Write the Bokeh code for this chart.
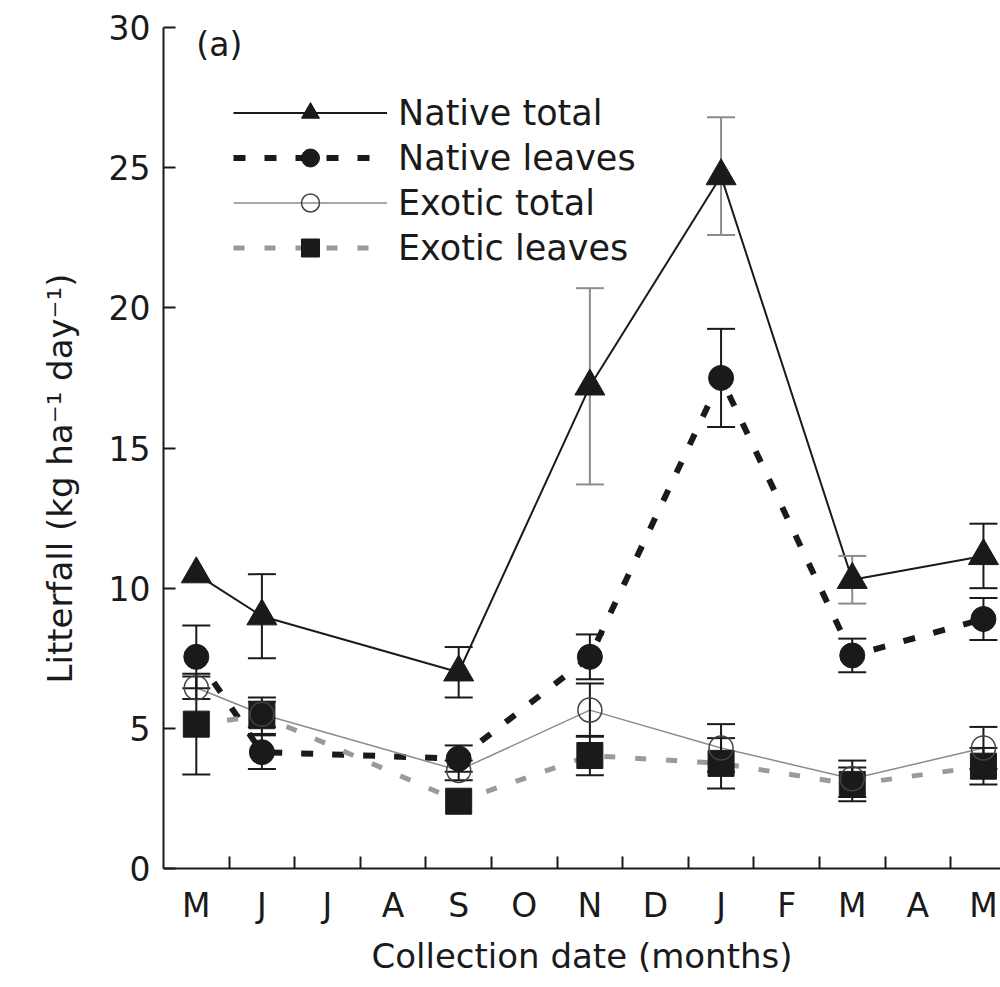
from bokeh.plotting import figure
from bokeh.models import Range1d, FixedTicker, Legend, LegendItem, Label, Title
from bokeh.embed import file_html
from bokeh.resources import INLINE

# Month labels along the x axis (May to May)
months = ["M", "J", "J", "A", "S", "O", "N", "D", "J", "F", "M", "A", "M"]
# Collection dates, as positions in the month sequence
collection = [0, 1, 4, 6, 8, 10, 12]

# Litterfall (kg ha-1 day-1), mean and standard error
native_total = [10.5, 9.0, 7.0, 17.2, 24.7, 10.3, 11.15]
native_total_se = [0.0, 1.5, 0.9, 3.5, 2.1, 0.85, 1.15]
native_leaves = [7.55, 4.15, 3.92, 7.55, 17.5, 7.6, 8.9]
native_leaves_se = [1.12, 0.6, 0.47, 0.8, 1.75, 0.6, 0.75]
exotic_total = [6.45, 5.5, 3.5, 5.65, 4.3, 3.2, 4.3]
exotic_total_se = [0.4, 0.45, 0.35, 0.95, 0.85, 0.65, 0.75]
exotic_leaves = [5.15, 5.45, 2.4, 4.03, 3.75, 3.0, 3.65]
exotic_leaves_se = [1.8, 0.65, 0.0, 0.7, 0.9, 0.6, 0.65]

FONT = "DejaVu Sans"
FS = "33px"
FS_TITLE = "34px"
INK = "#1a1a1a"
GREY = "#8c8c8c"

p = figure(width=1000, height=987,
           x_range=Range1d(-0.5, 12.26), y_range=Range1d(0, 30),
           output_backend="svg", toolbar_location=None,
           min_border_left=163, min_border_right=0,
           min_border_top=27, min_border_bottom=119)
p.outline_line_color = None
p.grid.visible = False
p.background_fill_color = "white"
p.border_fill_color = "white"

# x axis: month letters centred on each month, tick marks at month boundaries
p.xaxis.ticker = FixedTicker(ticks=list(range(13)),
                             minor_ticks=[i + 0.5 for i in range(12)])
p.xaxis.major_label_overrides = {i: m for i, m in enumerate(months)}
p.xaxis.major_tick_in = 0
p.xaxis.major_tick_out = 0
p.xaxis.minor_tick_in = 12
p.xaxis.minor_tick_out = 0
p.xaxis.axis_label = "Collection date (months)"

# y axis
p.yaxis.ticker = FixedTicker(ticks=[0, 5, 10, 15, 20, 25, 30])
p.yaxis.major_tick_in = 12
p.yaxis.major_tick_out = 0
p.yaxis.minor_tick_line_color = None

for ax in (p.xaxis, p.yaxis):
    ax.axis_line_width = 2
    ax.axis_line_color = INK
    ax.major_tick_line_width = 2
    ax.major_tick_line_color = INK
    ax.minor_tick_line_width = 2
    ax.minor_tick_line_color = INK
    ax.major_label_text_font = FONT
    ax.major_label_text_font_size = FS
    ax.major_label_text_color = INK
    ax.axis_label_text_font = FONT
    ax.axis_label_text_font_size = FS_TITLE
    ax.axis_label_text_font_style = "normal"
    ax.axis_label_text_color = INK

p.xaxis.major_label_standoff = 17
p.xaxis.axis_label_standoff = 8
p.yaxis.major_label_standoff = 13

# y axis title, measured up from the bottom of the axis
p.add_layout(Title(text="Litterfall (kg ha\u207b\u00b9 day\u207b\u00b9)",
                   align="left", offset=185, standoff=47,
                   vertical_align="top",
                   text_font=FONT, text_font_size=FS_TITLE,
                   text_font_style="normal", text_color=INK), "left")


def error_bars(xs, ys, se, colors):
    keep = [i for i in range(len(xs)) if se[i] > 0]
    x = [xs[i] for i in keep]
    lo = [ys[i] - se[i] for i in keep]
    hi = [ys[i] + se[i] for i in keep]
    col = [colors[i] for i in keep]
    p.segment(x0=x, y0=lo, x1=x, y1=hi, line_color=col, line_width=2)
    p.scatter(x=x + x, y=lo + hi, marker="dash", size=28,
              line_color=col + col, line_width=2)


# connecting lines
l_nt = p.line(collection, native_total, line_color=INK, line_width=2)
l_nl = p.line(collection, native_leaves, line_color=INK, line_width=6,
              line_dash="12 19")
l_et = p.line(collection, exotic_total, line_color=GREY, line_width=1.5)
l_el = p.line(collection, exotic_leaves, line_color="#9a9a9a", line_width=5,
              line_dash="11 20")

# error bars
error_bars(collection, exotic_leaves, exotic_leaves_se, [INK] * 7)
error_bars(collection, exotic_total, exotic_total_se, [INK] * 7)
error_bars(collection, native_leaves, native_leaves_se, [INK] * 7)
error_bars(collection, native_total, native_total_se,
           [INK, INK, INK, GREY, GREY, GREY, INK])

# markers
m_el = p.scatter(collection, exotic_leaves, marker="square", size=26,
                 fill_color=INK, line_color=INK)
m_et = p.scatter(collection, exotic_total, marker="circle", size=24,
                 fill_color=None, line_color="#444444", line_width=1.5)
m_nl = p.scatter(collection, native_leaves, marker="circle", size=25,
                 fill_color=INK, line_color=INK)
m_nt = p.scatter(collection, native_total, marker="triangle", size=30,
                 fill_color=INK, line_color=INK)

legend = Legend(items=[
    LegendItem(label="Native total", renderers=[l_nt, m_nt]),
    LegendItem(label="Native leaves", renderers=[l_nl, m_nl]),
    LegendItem(label="Exotic total", renderers=[l_et, m_et]),
    LegendItem(label="Exotic leaves", renderers=[l_el, m_el]),
])
legend.location = (70, 598)
legend.glyph_width = 154
legend.glyph_height = 45
legend.spacing = 0
legend.padding = 0
legend.margin = 0
legend.label_standoff = 11
legend.label_height = 45
legend.label_text_font = FONT
legend.label_text_font_size = "35px"
legend.label_text_color = INK
legend.border_line_color = None
legend.background_fill_color = None
p.add_layout(legend)

p.add_layout(Label(x=0, y=30.1, text="(a)", text_baseline="top",
                   text_align="left", text_font=FONT,
                   text_font_size=FS, text_color=INK))

open("out.html", "w").write(file_html(p, INLINE))
